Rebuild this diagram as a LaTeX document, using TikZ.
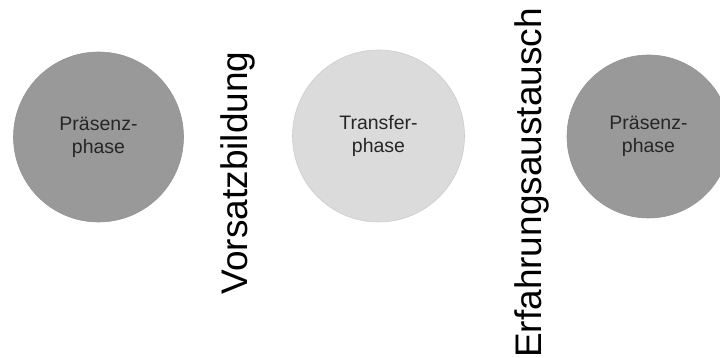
\documentclass[tikz,border=0pt]{standalone}
\usepackage{fontspec}
\setmainfont{Liberation Sans}
\begin{document}
\begin{tikzpicture}[x=1pt,y=-1pt,
  phasebox/.style={circle,inner sep=0pt,align=center,text=black!85,
    font=\fontsize{19.5}{23}\selectfont},
  darkphase/.style={phasebox,fill=black!40,draw=black!42,line width=0.6pt},
  lightphase/.style={phasebox,fill=black!14,draw=black!20,line width=0.6pt},
  sidelabel/.style={rotate=90,inner sep=0pt,text=black,font=\fontsize{37}{40}\selectfont}]
\useasboundingbox (0,0) rectangle (720,358);
\fill[white] (0,0) rectangle (720,358);
\node[darkphase,minimum size=170pt] (p1) at (98.5,137) {Präsenz-\\phase};
\node[lightphase,minimum size=172pt] (t1) at (378.5,136) {Transfer-\\phase};
\node[darkphase,minimum size=163pt] (p2) at (648.5,136.5) {Präsenz-\\phase};
\node[sidelabel] (v) at (238,173) {Vorsatzbildung};
\node[sidelabel] (e) at (532,183) {Erfahrungsaustausch};
\end{tikzpicture}
\end{document}
